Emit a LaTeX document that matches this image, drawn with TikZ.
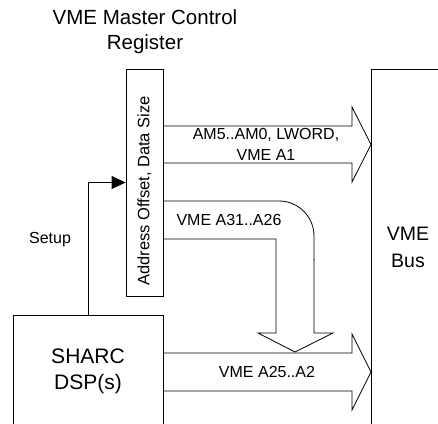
\documentclass[tikz,border=0pt]{standalone}
\usepackage{fontspec}
\setmainfont{Liberation Sans}
\usetikzlibrary{arrows.meta,positioning}

\tikzset{
  box/.style={draw, inner sep=0pt},
  bigtext/.style={align=center, font=\fontsize{21}{26}\selectfont},
  smalltext/.style={align=center, font=\fontsize{16}{21}\selectfont}
}

\begin{document}
\begin{tikzpicture}[x=1pt, y=-1pt, line width=0.8pt,
    >={Triangle[length=14pt,width=13pt]}]
    \clip (0,0) rectangle (438,423);

    % title
    \node[bigtext, font=\fontsize{20.5}{25}\selectfont] (title) at (145,32) {VME Master Control\\Register};

    % register, VME bus and DSP
    \node[box, minimum width=37, minimum height=227] (reg) at (144.5,182.5) {};
    \node[smalltext, rotate=90, font=\fontsize{16.5}{21}\selectfont]
        (regtxt) at (144.5,191) {Address Offset, Data Size};
    \node[box, minimum width=100, minimum height=380] (bus) at (421,259) {};
    \node[bigtext, font=\fontsize{19.5}{27}\selectfont] (bustxt) at (408,247) {VME\\Bus};
    \node[box, minimum width=150, minimum height=140] (sharc) at (88,385) {};
    \node[bigtext] (sharctxt) at (88,371) {SHARC\\DSP(s)};

    % setup
    \draw[->] (sharc.north) |- (reg.west);
    \node[smalltext] (setup) at (50,240) {Setup};

    % straight bus arrows
    \foreach \yt/\yb in {126/163, 353/391} {
        \draw (163,\yt) -- (352,\yt) -- (352,\yt-19) -- (371,{(\yt+\yb)/2})
            -- (352,\yb+19) -- (352,\yb) -- (163,\yb);
    }
    \node[smalltext] (amlbl) at (266,144) {AM5..AM0, LWORD,\\VME A1};
    \node[smalltext] (lowlbl) at (267,372) {VME A25..A2};

    % bent arrow down into the low address bus
    \draw[rounded corners=35] (163,201) -- (314,201) -- (314,260);
    \draw (314,259) -- (314,333) -- (333,333) -- (295,352) -- (258,333)
        -- (276,333) -- (276,239) -- (163,239);
    \node[smalltext] (highlbl) at (229,220) {VME A31..A26};
\end{tikzpicture}
\end{document}
